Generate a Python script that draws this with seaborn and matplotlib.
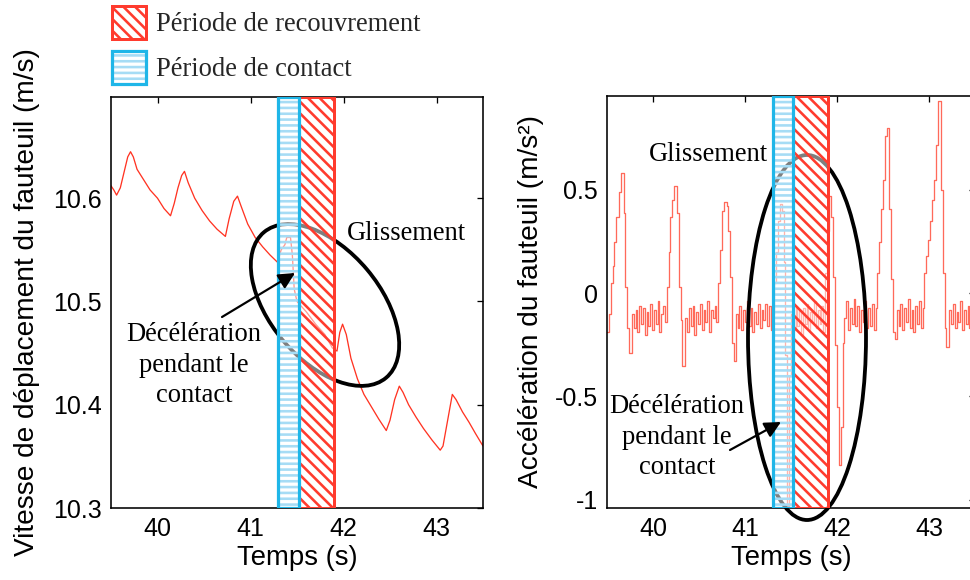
import matplotlib
matplotlib.use("Agg")
import matplotlib.pyplot as plt
import numpy as np
import pandas as pd
import seaborn as sns
from matplotlib.patches import Ellipse, Patch
from matplotlib.transforms import IdentityTransform
from matplotlib.legend_handler import HandlerTuple

# ---------------- data ----------------
vel_t = [39.50, 39.53, 39.56, 39.60, 39.64, 39.68, 39.71, 39.74, 39.78, 39.85, 39.92, 40.00,
         40.07, 40.14, 40.18, 40.22, 40.26, 40.29, 40.33, 40.40, 40.48, 40.56, 40.64, 40.73,
         40.77, 40.82, 40.86, 40.90, 40.97, 41.05, 41.13, 41.21, 41.29, 41.33, 41.37, 41.39,
         41.43, 41.45, 41.47, 41.50, 41.60, 41.70, 41.80, 41.88, 41.93, 41.96, 41.99, 42.03,
         42.08, 42.15, 42.22, 42.30, 42.38, 42.46, 42.50, 42.55, 42.60, 42.64, 42.70, 42.78,
         42.86, 42.95, 43.04, 43.07, 43.12, 43.17, 43.21, 43.28, 43.35, 43.42, 43.50]
vel_v = [10.612, 10.608, 10.603, 10.610, 10.625, 10.640, 10.645, 10.640, 10.628, 10.618, 10.608, 10.600,
         10.590, 10.583, 10.595, 10.610, 10.622, 10.626, 10.615, 10.600, 10.588, 10.578, 10.570, 10.563,
         10.580, 10.597, 10.602, 10.592, 10.575, 10.562, 10.553, 10.545, 10.538, 10.550, 10.555, 10.562,
         10.562, 10.545, 10.512, 10.500, 10.490, 10.478, 10.468, 10.455, 10.452, 10.470, 10.478, 10.468,
         10.445, 10.425, 10.410, 10.398, 10.386, 10.375, 10.385, 10.405, 10.418, 10.412, 10.400, 10.388,
         10.377, 10.366, 10.356, 10.360, 10.385, 10.410, 10.405, 10.393, 10.383, 10.372, 10.360]

acc_t = [39.50, 39.52, 39.54, 39.56, 39.58, 39.60, 39.63, 39.65, 39.68, 39.70, 39.72, 39.74,
         39.77, 39.79, 39.81, 39.83, 39.85, 39.87, 39.89, 39.91, 39.93, 39.95, 39.97, 39.99,
         40.01, 40.03, 40.05, 40.07, 40.09, 40.11, 40.13, 40.15, 40.17, 40.19, 40.21, 40.23,
         40.26, 40.28, 40.30, 40.32, 40.35, 40.37, 40.39, 40.41, 40.43, 40.45, 40.47, 40.49,
         40.51, 40.53, 40.55, 40.57, 40.59, 40.61, 40.63, 40.65, 40.67, 40.69, 40.71, 40.73,
         40.75, 40.77, 40.80, 40.82, 40.84, 40.86, 40.88, 40.90, 40.92, 40.94, 40.96, 40.98,
         41.00, 41.02, 41.04, 41.06, 41.08, 41.10, 41.12, 41.14, 41.16, 41.18, 41.20, 41.22,
         41.24, 41.26, 41.28, 41.30, 41.32, 41.34, 41.36, 41.38, 41.40, 41.42, 41.44, 41.46,
         41.48, 41.50, 41.53, 41.55, 41.57, 41.59, 41.61, 41.63, 41.65, 41.67, 41.69, 41.71,
         41.73, 41.75, 41.77, 41.79, 41.81, 41.83, 41.85, 41.87, 41.89, 41.91, 41.94, 41.96,
         41.98, 42.00, 42.02, 42.04, 42.06, 42.08, 42.10, 42.12, 42.14, 42.16, 42.18, 42.20,
         42.22, 42.24, 42.26, 42.28, 42.30, 42.32, 42.34, 42.36, 42.38, 42.40, 42.42, 42.44,
         42.46, 42.48, 42.50, 42.52, 42.54, 42.57, 42.59, 42.61, 42.63, 42.65, 42.67, 42.69,
         42.71, 42.73, 42.75, 42.77, 42.79, 42.81, 42.83, 42.85, 42.87, 42.89, 42.91, 42.93,
         42.95, 42.97, 42.99, 43.01, 43.03, 43.05, 43.08, 43.10, 43.13, 43.15, 43.17, 43.19,
         43.22, 43.24, 43.26, 43.28, 43.30, 43.32, 43.34, 43.36, 43.38, 43.40, 43.42, 43.44,
         43.46, 43.48, 43.50]
acc_v = [-0.19, -0.10, 0.05, 0.13, 0.25, 0.37, 0.49, 0.58, 0.39, 0.03, -0.17, -0.29,
         -0.10, -0.17, -0.08, -0.19, -0.06, -0.15, -0.07, -0.20, -0.09, -0.16, -0.05, -0.18,
         -0.08, -0.15, -0.04, -0.19, -0.10, -0.06, -0.14, 0.03, 0.20, 0.37, 0.45, 0.52,
         0.39, 0.03, -0.13, -0.35, -0.12, -0.19, -0.07, -0.16, -0.06, -0.20, -0.09, -0.15,
         -0.05, -0.18, -0.08, -0.14, -0.04, -0.19, -0.08, -0.12, -0.06, -0.14, 0.05, 0.21,
         0.40, 0.44, 0.42, 0.30, 0.08, -0.24, -0.33, -0.10, -0.17, -0.06, -0.18, -0.08,
         -0.14, -0.04, -0.16, -0.07, -0.19, -0.09, -0.15, -0.05, -0.17, -0.08, -0.13, -0.05,
         -0.16, -0.06, -0.18, -0.10, 0.05, 0.20, 0.35, 0.43, 0.40, 0.15, -0.30, -1.03,
         -0.40, -0.10, -0.18, -0.06, -0.16, -0.08, -0.20, -0.07, -0.15, -0.05, -0.18, -0.09,
         -0.14, -0.04, -0.17, -0.08, -0.15, -0.06, -0.19, 0.10, 0.30, 0.47, 0.37, 0.08,
         -0.25, -0.55, -0.83, -0.65, -0.24, -0.12, -0.04, -0.18, -0.07, -0.15, -0.03, -0.16,
         -0.06, -0.19, -0.08, -0.14, -0.04, -0.17, -0.07, -0.16, -0.05, -0.18, -0.07, 0.10,
         0.25, 0.41, 0.55, 0.76, 0.80, 0.41, 0.07, -0.19, -0.22, -0.08, -0.16, -0.05,
         -0.18, -0.07, -0.14, -0.03, -0.17, -0.08, -0.19, -0.06, -0.15, -0.04, -0.17, -0.07,
         0.10, 0.18, 0.26, 0.35, 0.45, 0.55, 0.72, 0.93, 0.50, 0.10, -0.17, -0.26,
         -0.08, -0.15, -0.05, -0.17, -0.09, -0.14, -0.04, -0.18, -0.08, -0.15, -0.06, -0.17,
         -0.09, -0.13, -0.10]

contact_period = (41.30, 41.52)
recovery_period = (41.52, 41.90)
legend_labels = ["Période de recouvrement", "Période de contact"]

x_ticks = [40, 41, 42, 43]
x_ticklabels = ["40", "41", "42", "43"]
vel_ticks = [10.3, 10.4, 10.5, 10.6]
vel_ticklabels = ["10.3", "10.4", "10.5", "10.6"]
acc_ticks = [-1, -0.5, 0, 0.5]
acc_ticklabels = ["-1", "-0.5", "0", "0.5"]

# ---------------- style ----------------
DPI = 140
W, H = 970, 580


def pt(px):
    return px * 72.0 / DPI


sns.set_theme(style="white")
plt.rcParams["font.family"] = ["Liberation Sans", "DejaVu Sans"]
plt.rcParams["hatch.linewidth"] = pt(2.6)
SERIF = ["Liberation Serif", "DejaVu Serif"]

RED = "#ff3b2e"
LINE_L = "#ff3322"
LINE_R = "#ff6a5a"
BLUE = "#1fb6e8"
BLUE_H = "#a6dcf5"
RED_HATCH = "\\" * 4
BLUE_HATCH = "-" * 4

fig = plt.figure(figsize=(W / DPI, H / DPI), dpi=DPI)


def box(x0, y0, x1, y1):
    return [x0 / W, 1 - y1 / H, (x1 - x0) / W, (y1 - y0) / H]


axL = fig.add_axes(box(111, 97, 483, 508))
axR = fig.add_axes(box(607, 96, 975, 508))

df_v = pd.DataFrame({"t": vel_t, "v": vel_v})
df_a = pd.DataFrame({"t": acc_t, "a": acc_v})
sns.lineplot(data=df_v, x="t", y="v", ax=axL, color=LINE_L, lw=pt(1.3),
             estimator=None, sort=False, zorder=2)
sns.lineplot(data=df_a, x="t", y="a", ax=axR, color=LINE_R, lw=pt(1.3),
             estimator=None, sort=False, drawstyle="steps-post", zorder=2)

for ax in (axL, axR):
    ax.axvspan(*recovery_period, facecolor=(1, 1, 1, 0.5), edgecolor=RED,
               hatch=RED_HATCH, lw=pt(3), zorder=3)
    ax.axvspan(*contact_period, facecolor=(1, 1, 1, 0.5), edgecolor=BLUE_H,
               hatch=BLUE_HATCH, lw=0, zorder=3)
    ax.axvspan(*contact_period, fill=False, edgecolor=BLUE, lw=pt(3.2), zorder=4)
    ax.set_xlim(39.5, 43.5)
    ax.set_xticks(x_ticks)
    ax.set_xticklabels(x_ticklabels)
    ax.tick_params(direction="in", top=True, right=True, length=pt(6),
                   width=pt(1.3), labelsize=pt(25), pad=pt(9), colors="black")
    for s in ax.spines.values():
        s.set_color("black")
        s.set_linewidth(pt(1.6))
    ax.grid(False)
    ax.set_xlabel("Temps (s)", fontsize=pt(27.5), color="black", labelpad=pt(4))

axL.set_ylim(10.3, 10.698)
axL.set_yticks(vel_ticks)
axL.set_yticklabels(vel_ticklabels)
axL.set_ylabel("Vitesse de déplacement du fauteuil (m/s)", fontsize=pt(28),
               color="black", labelpad=pt(13))

axR.set_ylim(-1.04, 0.955)
axR.set_yticks(acc_ticks)
axR.set_yticklabels(acc_ticklabels)
axR.set_ylabel("Accélération du fauteuil (m/s²)", fontsize=pt(28),
               color="black", labelpad=pt(11))

# ellipses (in pixel coordinates of the image, y flipped)
axL.add_patch(Ellipse((325, H - 305), 190, 110, angle=-50, transform=IdentityTransform(),
                      fill=False, ec="black", lw=pt(3.8), clip_on=False, zorder=2.5))
axR.add_patch(Ellipse((807, H - 337.5), 118, 365, angle=0, transform=IdentityTransform(),
                      fill=False, ec="black", lw=pt(3.8), clip_on=False, zorder=2.5))

# arrows
arrow_kw = dict(arrowstyle="-|>", color="black", lw=pt(2.2), mutation_scale=pt(34),
                shrinkA=0, shrinkB=0)
axL.annotate("", xy=(295, H - 273), xytext=(222, H - 317), xycoords="figure pixels",
             textcoords="figure pixels", arrowprops=arrow_kw, annotation_clip=False, zorder=6)
axR.annotate("", xy=(781, H - 422), xytext=(730, H - 450), xycoords="figure pixels",
             textcoords="figure pixels", arrowprops=arrow_kw, annotation_clip=False, zorder=6)

# texts
tkw = dict(fontsize=pt(26.5), family=SERIF, color="black")
fig.text(347 / W, 1 - 233 / H, "Glissement", ha="left", va="center", **tkw)
fig.text(649 / W, 1 - 155 / H, "Glissement", ha="left", va="center", **tkw)
fig.text(194 / W, 1 - 365 / H, "Décélération\npendant le\ncontact", ha="center",
         va="center", multialignment="center", linespacing=1.3, **tkw)
fig.text(677 / W, 1 - 437 / H, "Décélération\npendant le\ncontact", ha="center",
         va="center", multialignment="center", linespacing=1.3, **tkw)

# legend
red_h = Patch(facecolor="white", edgecolor=RED, hatch=RED_HATCH, lw=pt(3))
blue_h = (Patch(facecolor="white", edgecolor=BLUE_H, hatch=BLUE_HATCH, lw=0),
          Patch(fill=False, edgecolor=BLUE, lw=pt(3.2)))
fig.legend([red_h, blue_h], legend_labels, handler_map={tuple: HandlerTuple(ndivide=1)},
           loc="upper left", bbox_to_anchor=(112 / W, 1 - 6 / H), frameon=False,
           prop={"family": SERIF, "size": pt(26.5)}, handlelength=1.3, handleheight=1.55,
           handletextpad=0.35, labelspacing=0.45, borderpad=0, borderaxespad=0)

fig.savefig("out.png", dpi=DPI)
